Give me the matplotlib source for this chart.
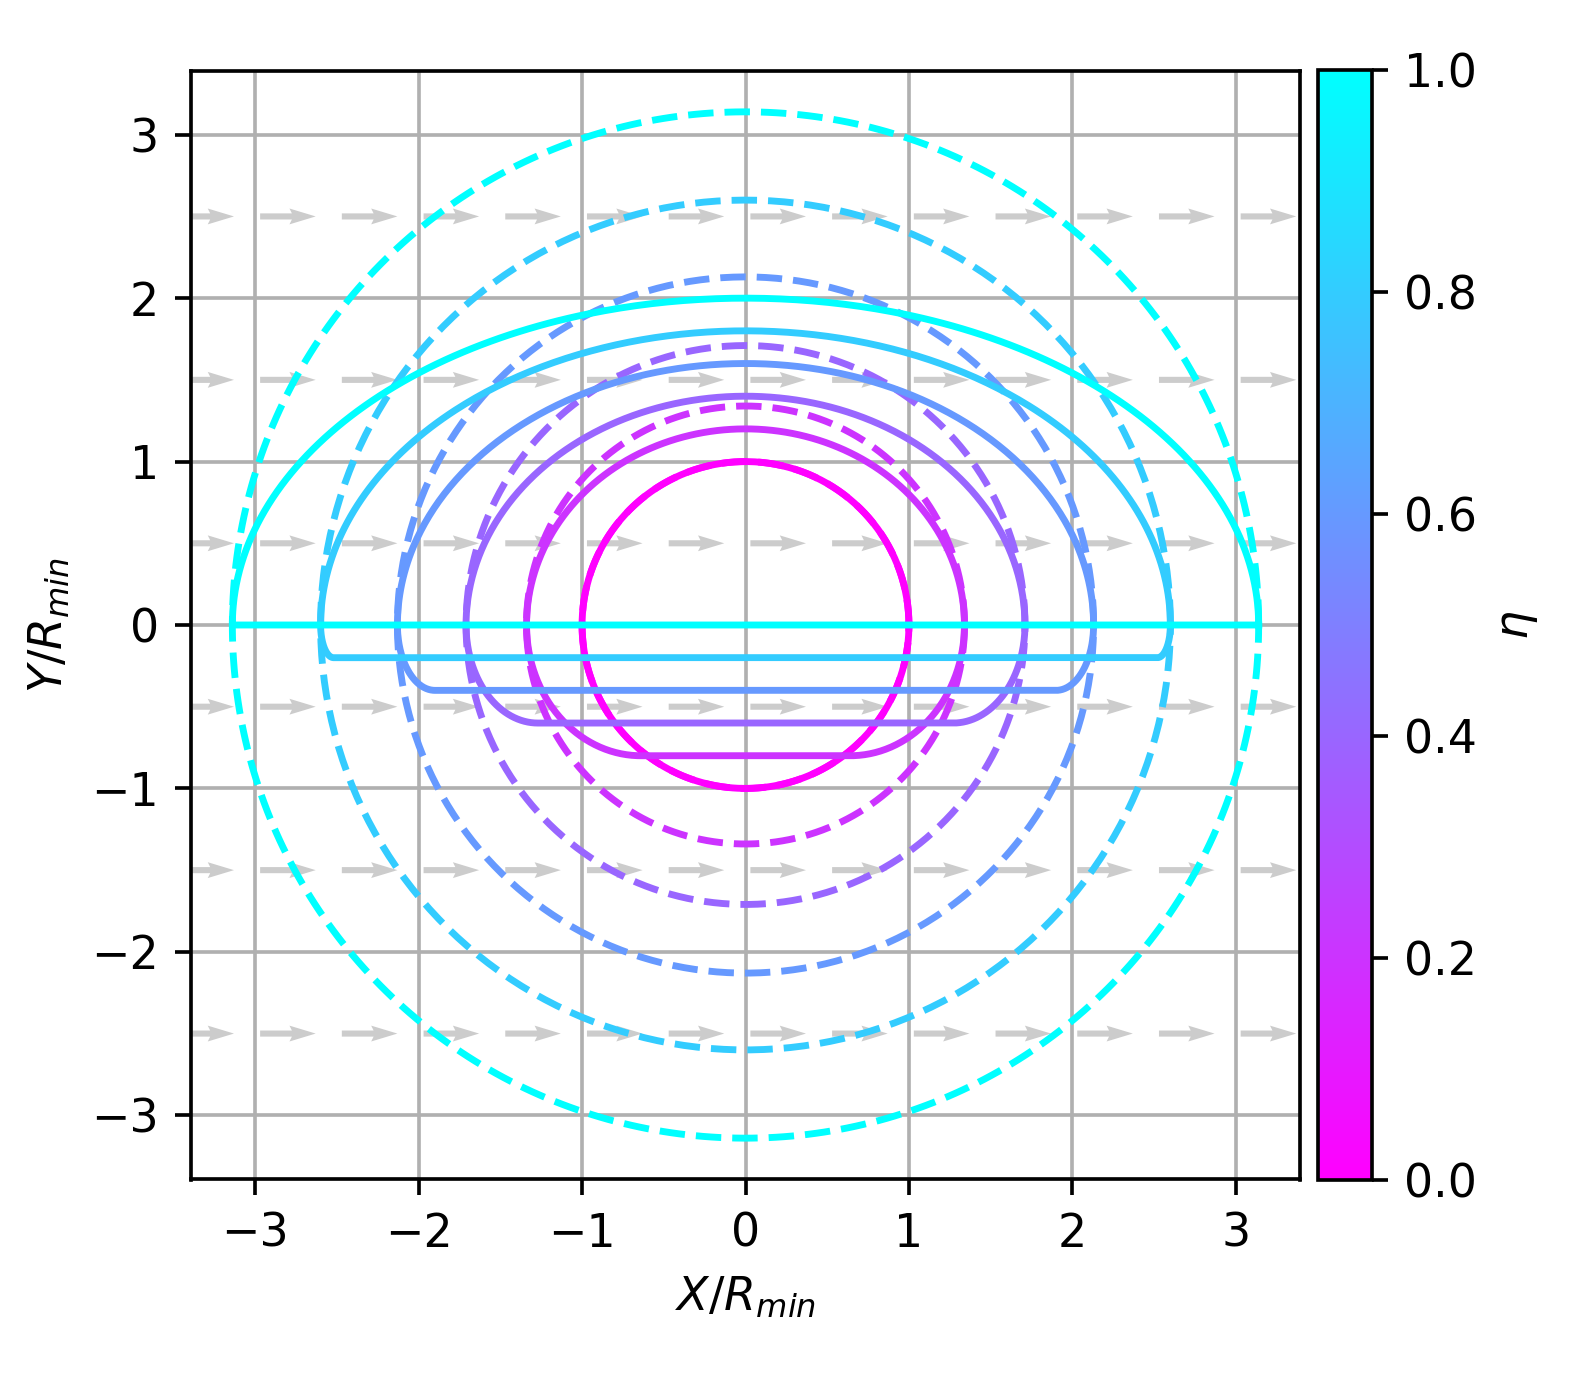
import numpy as np
import matplotlib
matplotlib.use('Agg')
import matplotlib.pyplot as plt
from matplotlib import cm, colors

# shape parameter and values
eta = [0.0, 0.2, 0.4, 0.6, 0.8, 1.0]
r_max = [1.00, 1.34, 1.71, 2.13, 2.60, 3.14]   # dashed circle radius = half width of solid shape
top_height = [1.0, 1.2, 1.4, 1.6, 1.8, 2.0]     # top of solid shape
bottom_depth = [1.0, 0.8, 0.6, 0.4, 0.2, 0.0]   # flat bottom at -depth
corner_width = [1.00, 0.70, 0.44, 0.23, 0.08, 0.0]

# background flow arrows (centres)
arrow_x = [-3.3, -2.8, -2.3, -1.8, -1.3, -0.8, -0.3,
           0.2, 0.7, 1.2, 1.7, 2.2, 2.7, 3.2]
arrow_y = [-2.5, -1.5, -0.5, 0.5, 1.5, 2.5]
arrow_len = 0.34

W, H = 1576, 1379
DPI = 330
fig = plt.figure(figsize=(W / DPI, H / DPI), dpi=DPI)
ax = fig.add_axes([191 / W, (H - 1180) / H, 1109 / W, 1110 / H])
cax = fig.add_axes([1318 / W, (H - 1180) / H, 54 / W, 1110 / H])

cmap = plt.get_cmap('cool_r')
norm = colors.Normalize(vmin=0, vmax=1)

X, Y = np.meshgrid(arrow_x, arrow_y)
U = np.full(X.shape, arrow_len)
V = np.zeros(X.shape)
ax.quiver(X, Y, U, V, color='#cccccc', pivot='middle', angles='xy',
          scale_units='xy', scale=1, width=0.0055, headwidth=2.6,
          headlength=4.3, headaxislength=3.9)

t = np.linspace(0, 2 * np.pi, 400)
for e, R in zip(eta, r_max):
    ax.plot(R * np.cos(t), R * np.sin(t), '--', color=cmap(norm(e)), lw=1.5)

for e, R, h, d, a in zip(eta, r_max, top_height, bottom_depth, corner_width):
    s = np.linspace(0, np.pi, 300)
    ux = R * np.cos(s)
    uy = h * np.sin(s)
    q = np.linspace(0, np.pi / 2, 100)
    # left corner, from (-R, 0) down to (-R + a, -d)
    lx = -R + a - a * np.cos(q)
    ly = -d * np.sin(q)
    # right corner, from (R - a, -d) up to (R, 0)
    rx = R - a + a * np.sin(q)
    ry = -d * np.cos(q)
    xs = np.concatenate([ux, lx, rx])
    ys = np.concatenate([uy, ly, ry])
    ax.plot(xs, ys, '-', color=cmap(norm(e)), lw=1.5)

lim = 3.393
ax.set_xlim(-lim, lim)
ax.set_ylim(-lim, lim)
ax.set_aspect('equal')
ax.set_xticks([-3, -2, -1, 0, 1, 2, 3])
ax.set_yticks([-3, -2, -1, 0, 1, 2, 3])
ax.grid(True, color='#b0b0b0', lw=0.8)
ax.set_xlabel(r'$X/R_{min}$')
ax.set_ylabel(r'$Y/R_{min}$')

sm = cm.ScalarMappable(norm=norm, cmap=cmap)
cbar = fig.colorbar(sm, cax=cax)
cbar.set_ticks([0.0, 0.2, 0.4, 0.6, 0.8, 1.0])
cbar.set_label(r'$\eta$')

fig.savefig('out.png', dpi=DPI)
